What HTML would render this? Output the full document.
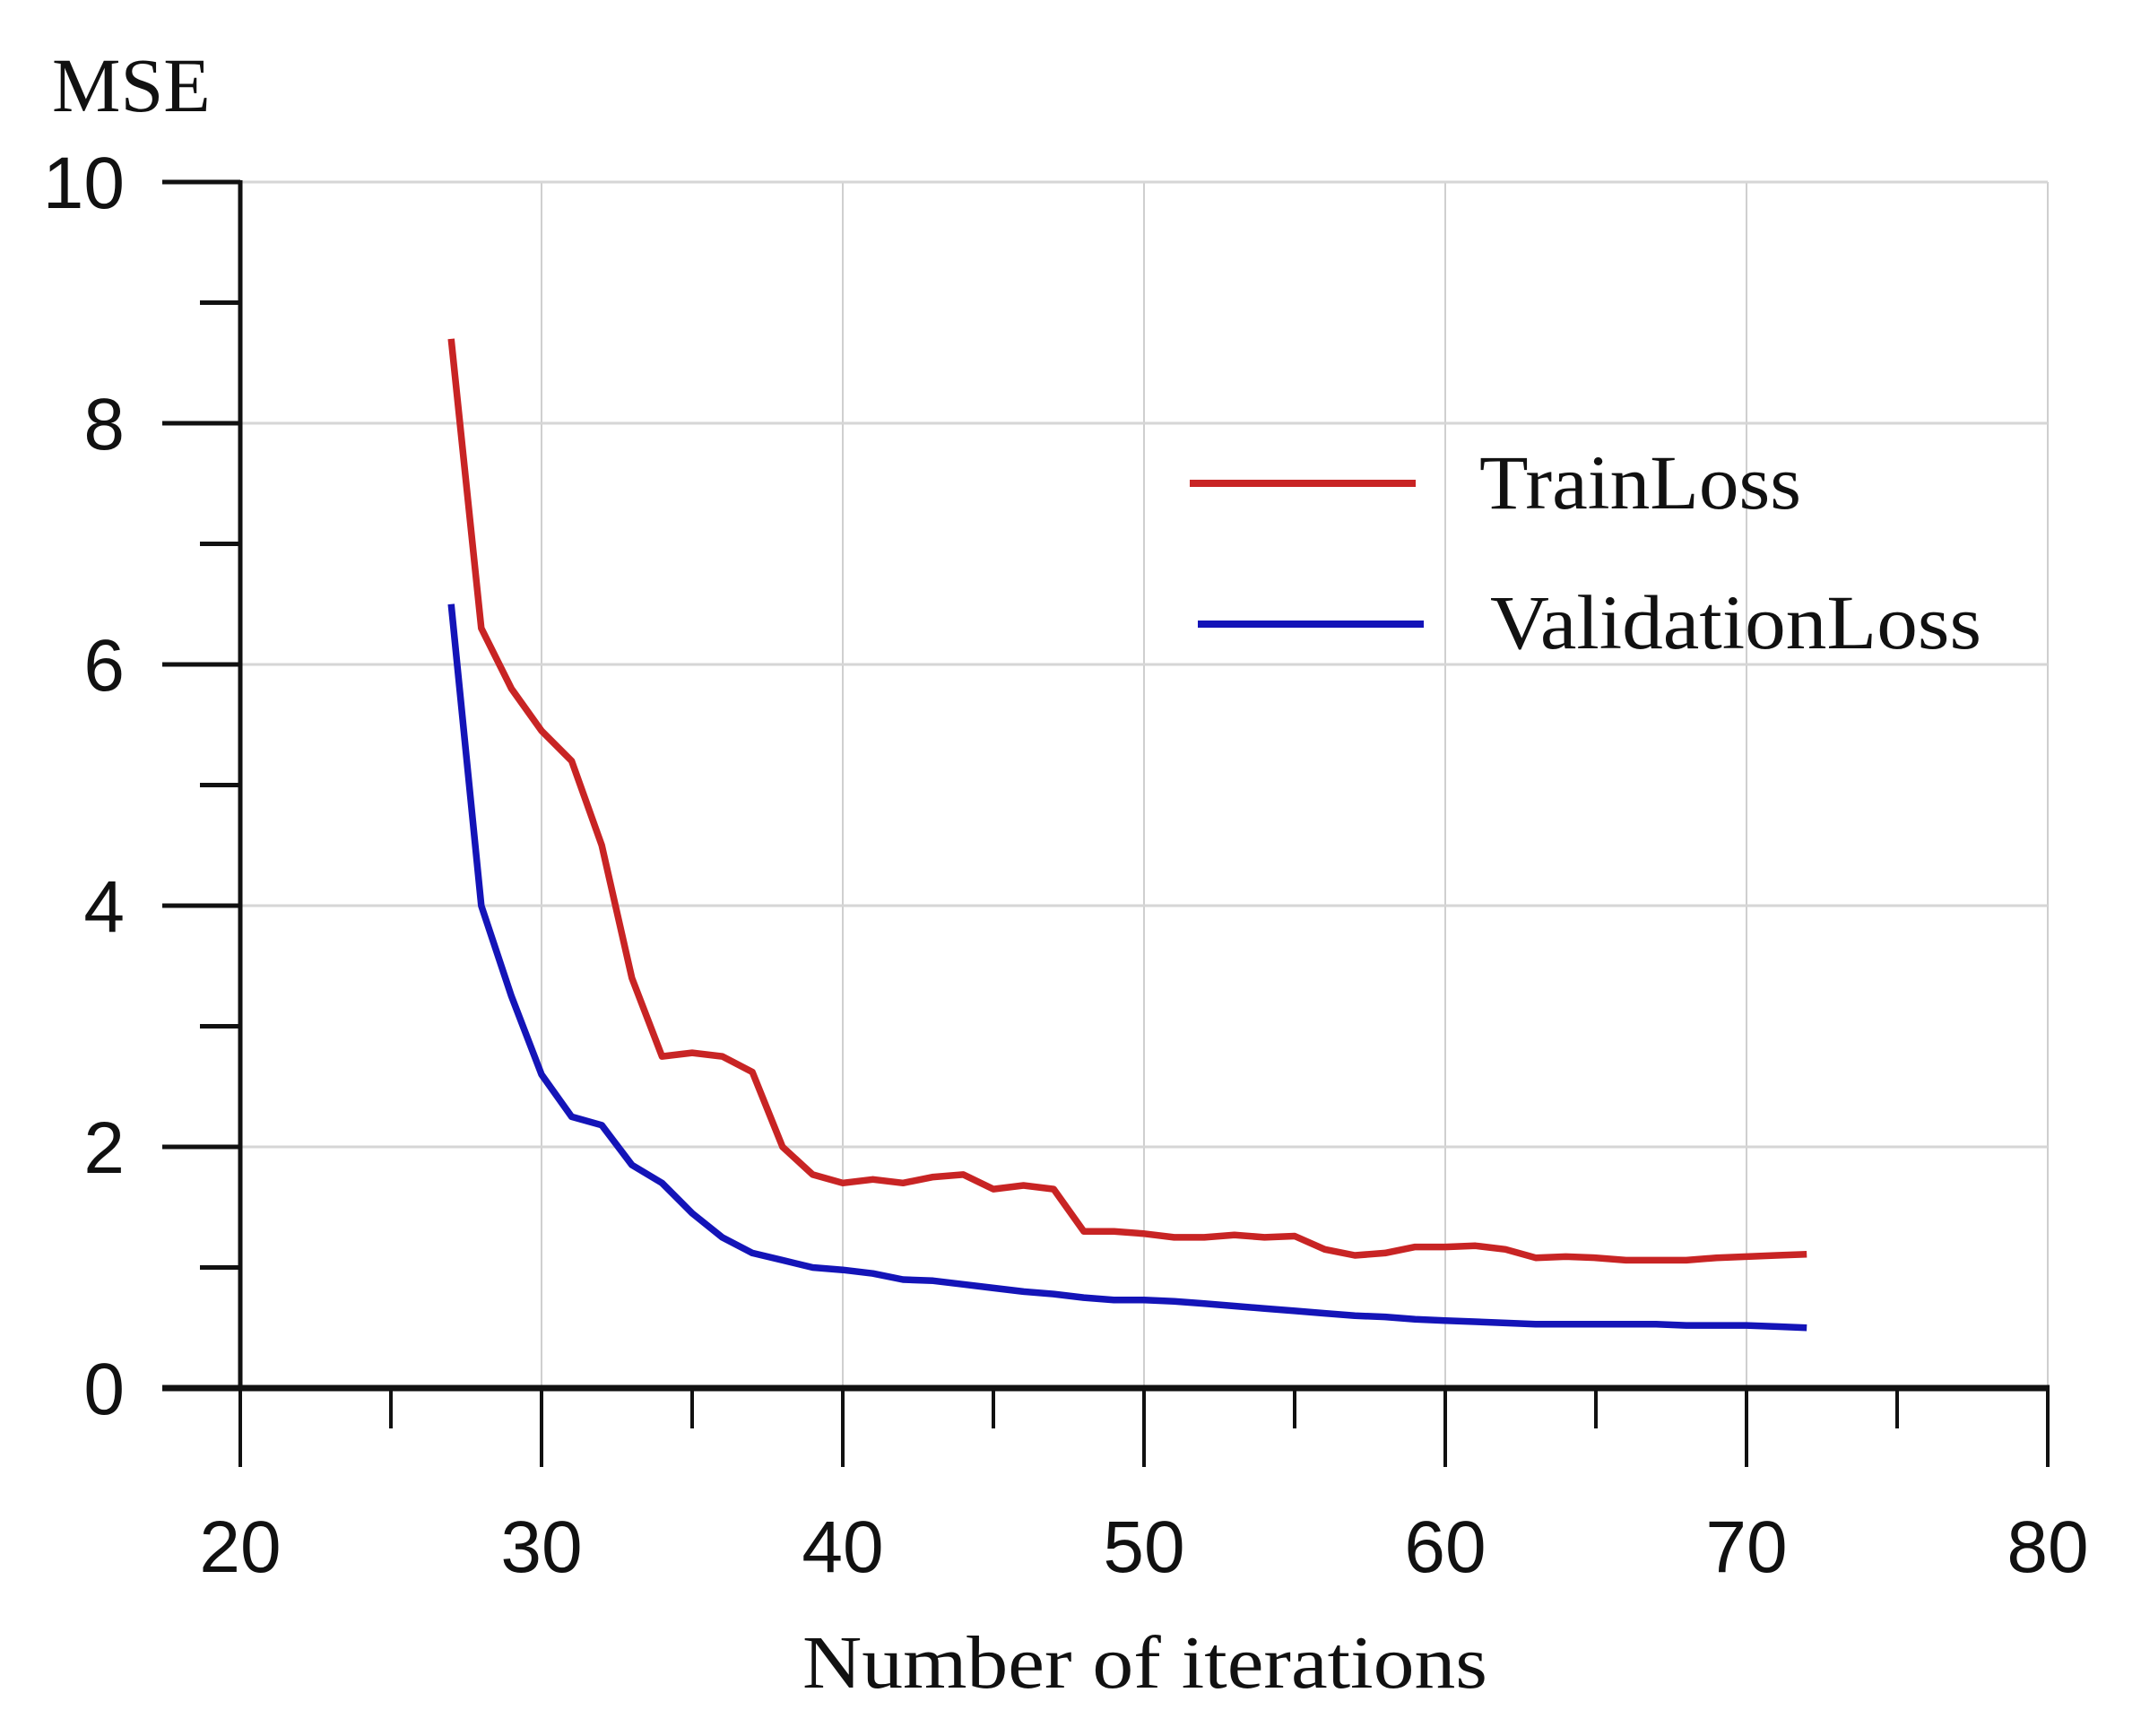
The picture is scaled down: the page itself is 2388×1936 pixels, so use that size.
<!DOCTYPE html>
<html><head><meta charset="utf-8"><style>
html,body{margin:0;padding:0;background:#fff;}
svg{display:block;}
</style></head><body>
<svg id="chart" width="2388" height="1936" viewBox="0 0 2388 1936" xmlns="http://www.w3.org/2000/svg">
<rect width="2388" height="1936" fill="#fff"/>
<g id="grid"></g>
<g id="axes"></g>
<g id="series"></g>
<text x="58" y="124" font-family="Liberation Serif, serif" font-size="86" fill="#111">MSE</text>
<text x="895" y="1882" font-family="Liberation Serif, serif" font-size="84" fill="#111" textLength="764" lengthAdjust="spacingAndGlyphs">Number of iterations</text>
<g>
<line x1="1327" y1="539" x2="1579" y2="539" stroke="#c82424" stroke-width="8"/>
<text x="1650" y="567" font-family="Liberation Serif, serif" font-size="86" fill="#111" textLength="359" lengthAdjust="spacingAndGlyphs">TrainLoss</text>
<line x1="1336" y1="696" x2="1588" y2="696" stroke="#1414b8" stroke-width="8"/>
<text x="1662" y="723" font-family="Liberation Serif, serif" font-size="86" fill="#111" textLength="548" lengthAdjust="spacingAndGlyphs">ValidationLoss</text>
</g>
</svg>
<script>
const iterations = [27,28,29,30,31,32,33,34,35,36,37,38,39,40,41,42,43,44,45,46,47,48,49,50,51,52,53,54,55,56,57,58,59,60,61,62,63,64,65,66,67,68,69,70,71,72];
const trainLoss = [8.7,6.3,5.8,5.45,5.2,4.5,3.4,2.75,2.78,2.75,2.62,2.0,1.77,1.7,1.73,1.7,1.75,1.77,1.65,1.68,1.65,1.3,1.3,1.28,1.25,1.25,1.27,1.25,1.26,1.15,1.1,1.12,1.17,1.17,1.18,1.15,1.08,1.09,1.08,1.06,1.06,1.06,1.08,1.09,1.1,1.11];
const validationLoss = [6.5,4.0,3.25,2.6,2.25,2.18,1.85,1.7,1.45,1.25,1.12,1.06,1.0,0.98,0.95,0.9,0.89,0.86,0.83,0.8,0.78,0.75,0.73,0.73,0.72,0.7,0.68,0.66,0.64,0.62,0.6,0.59,0.57,0.56,0.55,0.54,0.53,0.53,0.53,0.53,0.53,0.52,0.52,0.52,0.51,0.5];
const xTicks = [20,30,40,50,60,70,80];
const xMinorTicks = [25,35,45,55,65,75];
const yTicks = [0,2,4,6,8,10];
const yMinorTicks = [1,3,5,7,9];

const NS = "http://www.w3.org/2000/svg";
const X0=268, X1=2284, Y0=1548, Y1=203;
function xs(v){return X0+(v-20)/60*(X1-X0);}
function ys(v){return Y0-(v/10)*(Y0-Y1);}
function mk(parent, tag, attrs){const e=document.createElementNS(NS,tag);for(const k in attrs)e.setAttribute(k,attrs[k]);parent.appendChild(e);return e;}
const grid=document.getElementById('grid'), axes=document.getElementById('axes'), series=document.getElementById('series');

xTicks.forEach(t=>{ if(t>20){
  const l=mk(grid,'line',{x1:xs(t),y1:Y1,x2:xs(t),y2:Y0,stroke:'#cfcfcf','stroke-width':2});
  
  
}});
yTicks.forEach(t=>{ if(t>0){
  const l=mk(grid,'line',{x1:X0,y1:ys(t),x2:X1,y2:ys(t),stroke:'#d6d6d6','stroke-width':3});
  
  
}});

let a=mk(axes,'line',{x1:X0,y1:Y1-2,x2:X0,y2:Y0,stroke:'#111','stroke-width':5});


a=mk(axes,'line',{x1:181,y1:Y0,x2:X1+2,y2:Y0,stroke:'#111','stroke-width':7});



yTicks.forEach(t=>{
  const l=mk(axes,'line',{x1:181,y1:ys(t),x2:X0,y2:ys(t),stroke:'#111','stroke-width':5});
  
  
  const tx=mk(axes,'text',{x:139,y:ys(t)+29,'text-anchor':'end','font-family':'Liberation Sans, sans-serif','font-size':82,fill:'#111'});
  tx.textContent=t;
  
  
});
yMinorTicks.forEach(t=>{
  const l=mk(axes,'line',{x1:223,y1:ys(t),x2:X0,y2:ys(t),stroke:'#111','stroke-width':5});
  
  
});
xTicks.forEach(t=>{
  const l=mk(axes,'line',{x1:xs(t),y1:Y0,x2:xs(t),y2:1636,stroke:'#111','stroke-width':4});
  
  
  const tx=mk(axes,'text',{x:xs(t),y:1753,'text-anchor':'middle','font-family':'Liberation Sans, sans-serif','font-size':82,fill:'#111'});
  tx.textContent=t;
  
  
});
xMinorTicks.forEach(t=>{
  const l=mk(axes,'line',{x1:xs(t),y1:Y0,x2:xs(t),y2:1593,stroke:'#111','stroke-width':4});
  
  
});

function path(vals){return vals.map((v,i)=>(i?'L':'M')+xs(iterations[i]).toFixed(1)+','+ys(v).toFixed(1)).join(' ');}
let p=mk(series,'path',{d:path(trainLoss),fill:'none',stroke:'#c82424','stroke-width':7.5,'stroke-linejoin':'round'});


p=mk(series,'path',{d:path(validationLoss),fill:'none',stroke:'#1414b8','stroke-width':7.5,'stroke-linejoin':'round'});


</script>
</body></html>
